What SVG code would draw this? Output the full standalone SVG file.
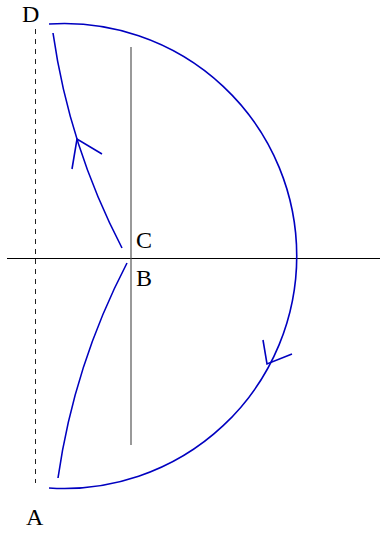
<svg xmlns="http://www.w3.org/2000/svg" width="380" height="535" viewBox="0 0 380 535">
<style>
.ax{stroke:#000;stroke-width:1;fill:none}
.gr{stroke:#555;stroke-width:1.2;fill:none}
.dash{stroke:#222;stroke-width:1;stroke-dasharray:5 5;fill:none}
.cv{stroke:#0000c0;stroke-width:1.6;fill:none}
.lb{font-family:"Liberation Serif","Times New Roman",serif;font-size:24px;fill:#000}
</style>
<g id="axes">
<line class="ax" x1="7" y1="258.5" x2="380" y2="258.5"/>
<line class="gr" x1="131" y1="47" x2="131" y2="445"/>
<line class="dash" x1="35.5" y1="29" x2="35.5" y2="483"/>
</g>
<g id="connectors">
<path class="cv" d="M49,24 A232.5,232.5 0 1 1 49,488"/>
<path class="cv" d="M53,33 A672,672 0 0 0 122,248"/>
<path class="cv" d="M127,263 A672,672 0 0 0 58,478"/>
<polyline class="cv" points="72,169 77,139 102,154"/>
<polyline class="cv" points="263,340 267,364 292,354"/>
</g>
<g id="D"><text class="lb" x="22" y="21.5">D</text></g>
<g id="C"><text class="lb" x="136" y="248">C</text></g>
<g id="B"><text class="lb" x="136" y="286">B</text></g>
<g id="A"><text class="lb" x="26" y="525">A</text></g>
</svg>
